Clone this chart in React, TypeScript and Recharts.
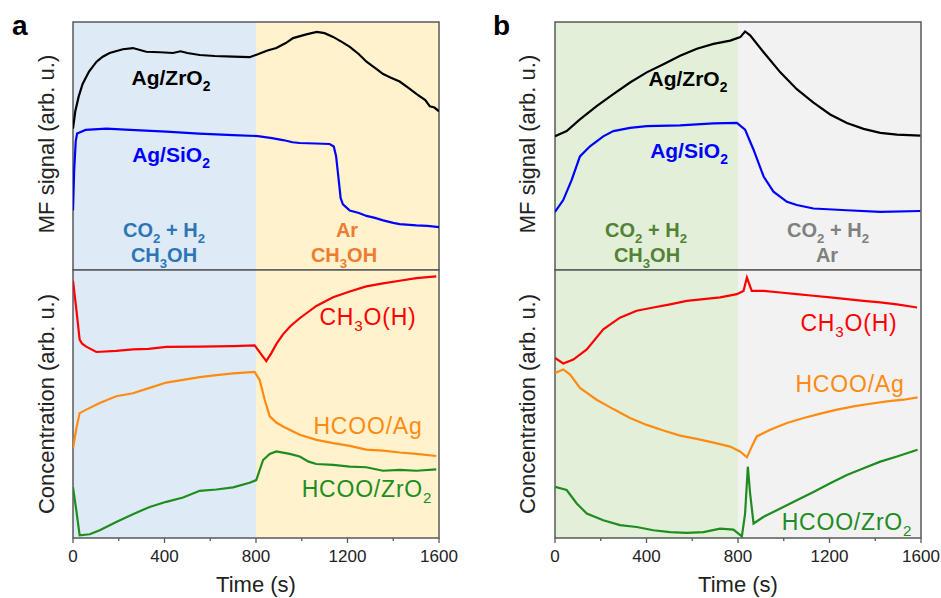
import React from 'react';
import { LineChart, Line, XAxis, YAxis, ReferenceArea } from 'recharts';

type P = { t: number; v: number };
const mk = (a: number[][]): P[] => a.map(([t, v]) => ({ t, v }));

// ---------- panel a, top (MF signal) ----------
const aTopZrO2 = mk([[0,57],[10,64],[25,70],[42,75],[70,80],[103,84],[130,86],[160,87.5],[218,89],[262,89.5],[320,88],[380,87.8],[437,87.5],[470,88.2],[500,87.5],[554,86.7],[620,86.3],[700,86],[772,85.8],[808,87],[850,88.5],[889,89.5],[930,91.5],[962,93.5],[1020,95],[1066,96],[1100,95.5],[1137,94],[1175,92],[1210,90],[1250,87],[1283,84],[1320,81.5],[1356,79],[1390,77.5],[1428,76],[1465,73.5],[1501,71],[1540,68.5],[1560,66],[1580,65.5],[1600,64]]);
const aTopSiO2 = mk([[0,24],[5,40],[12,52],[18,55],[55,56.5],[146,57],[250,56.5],[408,55.8],[550,55],[700,54.4],[808,54],[870,53.2],[918,52.4],[960,51.5],[991,51.2],[1060,51],[1122,50.8],[1140,49.8],[1150,46],[1160,37.6],[1170,29],[1180,26.5],[1210,24],[1250,23],[1283,21.8],[1320,21],[1356,20],[1400,19],[1428,18.5],[1501,18],[1550,17.8],[1600,17.3]]);

// ---------- panel a, bottom (concentration) ----------
const aBotCH3O = mk([[0,96],[15,85],[29,74],[40,72.5],[58,71.4],[102,69.4],[189,69.8],[262,70.4],[330,70.6],[408,71.3],[554,71.4],[700,71.6],[794,71.9],[823,68.5],[845,66],[867,69],[890,72.5],[918,76],[950,79],[991,82],[1064,86.6],[1137,89.8],[1210,92],[1282,93.9],[1355,95],[1428,96],[1501,97],[1588,97.6]]);
const aBotHCOOAg = mk([[0,33.5],[15,41],[29,46.6],[58,47.9],[117,50.4],[189,52.9],[262,54],[335,56],[408,58],[481,59],[554,60],[627,60.8],[700,61.4],[794,62],[816,59],[838,51.6],[860,45.4],[890,43],[918,41.6],[991,38.5],[1064,36.6],[1137,35.4],[1210,34.4],[1282,33],[1355,32.6],[1428,31.9],[1501,31.4],[1588,30.6]]);
const aBotHCOOZr = mk([[0,19],[15,10],[29,1],[73,1.4],[117,2.9],[189,6],[262,8.9],[335,11.6],[408,13.5],[481,15.1],[554,17.6],[627,18.1],[700,18.9],[772,20.6],[801,21.6],[831,29.1],[860,31.4],[889,32.3],[947,31.4],[991,30.4],[1030,28.5],[1064,27.6],[1137,27.3],[1210,26.6],[1282,26.4],[1355,25.1],[1428,25.4],[1501,25.1],[1588,25.6]]);

// ---------- panel b, top ----------
const bTopZrO2 = mk([[0,53.9],[51,56],[109,60.7],[182,66.1],[255,70.9],[328,75.6],[401,79.7],[474,83],[547,86.4],[620,89.2],[693,91.2],[766,92.5],[810,93.9],[831,96.2],[853,94.6],[912,87.8],[985,79.7],[1057,72.9],[1130,67.5],[1203,62.7],[1276,59.3],[1349,56.9],[1422,55.3],[1495,54.6],[1597,54.2]]);
const bTopSiO2 = mk([[0,23.4],[36,28.2],[73,36.3],[109,45.8],[153,49.9],[211,53.9],[255,56],[328,57.3],[401,58],[547,58.3],[693,59.1],[795,59.3],[831,56.6],[868,48.5],[912,37.7],[955,31.6],[1014,27.5],[1057,26.2],[1130,24.8],[1276,24.1],[1422,23.4],[1597,23.8]]);

// ---------- panel b, bottom ----------
const bBotCH3O = mk([[0,67.2],[36,65.1],[80,66.6],[139,70.4],[211,77.9],[284,82.2],[357,84.8],[430,86],[503,87.2],[576,88.5],[649,89.1],[722,89.8],[795,91],[824,92.2],[839,97.2],[860,92.2],[912,92.2],[985,91.6],[1057,91],[1130,90.4],[1203,89.8],[1276,89.1],[1349,88.5],[1422,87.9],[1495,87.2],[1583,86]]);
const bBotHCOOAg = mk([[0,61.6],[36,62.9],[66,61],[109,56],[182,51.6],[255,48.1],[328,44.8],[401,42.2],[474,40.1],[547,38.2],[620,37],[693,35.6],[766,34.1],[810,32.2],[839,30.1],[860,34.1],[882,37.9],[941,40.4],[1014,42.9],[1087,44.8],[1160,46.4],[1233,47.9],[1305,49.1],[1378,50.1],[1451,51],[1524,51.6],[1585,52.5]]);
const bBotHCOOZr = mk([[0,19.1],[51,17.9],[95,12.9],[139,9.1],[211,6.6],[284,4.8],[357,4.1],[430,2.9],[503,2.2],[576,1.9],[649,2.2],[722,3.5],[780,3.1],[817,0.6],[831,9.1],[843,26.6],[853,16.6],[868,5.4],[912,7.9],[985,11],[1057,14.1],[1130,17.2],[1203,20.4],[1276,23.5],[1349,26],[1422,28.5],[1495,30.4],[1585,32.9]]);

const xTicks = [0, 200, 400, 600, 800, 1000, 1200, 1400, 1600];
const phaseSplit = [0, 800, 1600];

const FONT = "Arial, 'Liberation Sans', sans-serif";
const FRAME = '#595959';

const TickMark = (props: any) => {
  const { x, y, payload } = props;
  const major = payload.value % 400 === 0;
  return (
    <g>
      <line x1={x} x2={x} y1={y} y2={y + (major ? 5 : 3)} stroke={FRAME} strokeWidth={1.3} />
      {major && (
        <text x={x} y={y + 24} textAnchor="middle" fontSize={17} fill="#222" fontFamily={FONT}>
          {payload.value}
        </text>
      )}
    </g>
  );
};

type Series = { data: P[]; color: string };

function Sub({ x, y, parts, fs, color, weight, ls }: { x: number; y: number; parts: [string, boolean][]; fs: number; color: string; weight?: string; ls?: number }) {
  let prevSub = false;
  return (
    <text x={x} y={y} textAnchor="middle" fontSize={fs} fill={color} fontWeight={weight || 'normal'} fontFamily={FONT} letterSpacing={ls || 0}>
      {parts.map(([s, sub], i) => {
        let dy = 0;
        if (sub && !prevSub) dy = fs * 0.28;
        if (!sub && prevSub) dy = -fs * 0.28;
        prevSub = sub;
        return (
          <tspan key={i} dy={dy} fontSize={sub ? fs * 0.66 : fs}>
            {s}
          </tspan>
        );
      })}
    </text>
  );
}

function TopChart({ left, width, ml, mr, bg1, bg2, series }: { left: number; width: number; ml: number; mr: number; bg1: string; bg2: string; series: Series[] }) {
  return (
    <div style={{ position: 'absolute', left, top: 0 }}>
      <LineChart width={width} height={280} margin={{ top: 22, right: mr, bottom: 10, left: ml }}>
        <XAxis hide type="number" dataKey="t" domain={[0, 1600]} allowDataOverflow />
        <YAxis hide type="number" domain={[0, 100]} allowDataOverflow />
        <ReferenceArea x1={phaseSplit[0]} x2={phaseSplit[1]} y1={0} y2={100} fill={bg1} fillOpacity={1} stroke="none" />
        <ReferenceArea x1={phaseSplit[1]} x2={phaseSplit[2]} y1={0} y2={100} fill={bg2} fillOpacity={1} stroke="none" />
        <ReferenceArea x1={0} x2={1600} y1={0} y2={100} fill="none" stroke={FRAME} strokeWidth={1.5} />
        {series.map((s, i) => (
          <Line key={i} data={s.data} dataKey="v" type="linear" stroke={s.color} strokeWidth={2.2} dot={false} isAnimationActive={false} />
        ))}
      </LineChart>
    </div>
  );
}

function BottomChart({ left, width, ml, mr, bg1, bg2, series }: { left: number; width: number; ml: number; mr: number; bg1: string; bg2: string; series: Series[] }) {
  return (
    <div style={{ position: 'absolute', left, top: 260 }}>
      <LineChart width={width} height={338} margin={{ top: 10, right: mr, bottom: 4, left: ml }}>
        <XAxis
          type="number"
          dataKey="t"
          domain={[0, 1600]}
          ticks={xTicks}
          interval={0}
          tickSize={0}
          tickMargin={0}
          tickLine={false}
          axisLine={false}
          tick={<TickMark />}
          height={56}
          label={{ value: 'Time (s)', position: 'insideBottom', offset: 2, fontSize: 22, fill: '#222', fontFamily: FONT }}
          allowDataOverflow
        />
        <YAxis hide type="number" domain={[0, 100]} allowDataOverflow />
        <ReferenceArea x1={phaseSplit[0]} x2={phaseSplit[1]} y1={0} y2={100} fill={bg1} fillOpacity={1} stroke="none" />
        <ReferenceArea x1={phaseSplit[1]} x2={phaseSplit[2]} y1={0} y2={100} fill={bg2} fillOpacity={1} stroke="none" />
        <ReferenceArea x1={0} x2={1600} y1={0} y2={100} fill="none" stroke={FRAME} strokeWidth={1.5} />
        {series.map((s, i) => (
          <Line key={i} data={s.data} dataKey="v" type="linear" stroke={s.color} strokeWidth={2.2} dot={false} isAnimationActive={false} />
        ))}
      </LineChart>
    </div>
  );
}

const BLACK = '#000000';
const BLUE = '#0000ff';
const RED = '#ff0000';
const ORANGE = '#ff8a10';
const GREEN = '#1f8c1f';

export default function App() {
  return (
    <div style={{ position: 'absolute', left: 0, top: 0, width: 941, height: 598, background: '#fff', fontFamily: FONT }}>
      <TopChart left={0} width={470} ml={73} mr={31} bg1="#deebf7" bg2="#fff2cc"
        series={[{ data: aTopZrO2, color: BLACK }, { data: aTopSiO2, color: BLUE }]} />
      <BottomChart left={0} width={470} ml={73} mr={31} bg1="#deebf7" bg2="#fff2cc"
        series={[{ data: aBotCH3O, color: RED }, { data: aBotHCOOAg, color: ORANGE }, { data: aBotHCOOZr, color: GREEN }]} />
      <TopChart left={480} width={461} ml={75} mr={20} bg1="#e2f0d9" bg2="#f2f2f2"
        series={[{ data: bTopZrO2, color: BLACK }, { data: bTopSiO2, color: BLUE }]} />
      <BottomChart left={480} width={461} ml={75} mr={20} bg1="#e2f0d9" bg2="#f2f2f2"
        series={[{ data: bBotCH3O, color: RED }, { data: bBotHCOOAg, color: ORANGE }, { data: bBotHCOOZr, color: GREEN }]} />

      <svg width={941} height={598} style={{ position: 'absolute', left: 0, top: 0, pointerEvents: 'none' }}>
        {/* panel letters */}
        <text x={12} y={35} fontSize={28} fontWeight="bold" fontFamily={FONT} fill="#000">a</text>
        <text x={493} y={35} fontSize={28} fontWeight="bold" fontFamily={FONT} fill="#000">b</text>

        {/* y-axis titles */}
        <text transform="translate(46,144) rotate(-90)" textAnchor="middle" dominantBaseline="central" fontSize={22} fill="#222" fontFamily={FONT}>MF signal (arb. u.)</text>
        <text transform="translate(46,404) rotate(-90)" textAnchor="middle" dominantBaseline="central" fontSize={22} fill="#222" fontFamily={FONT}>Concentration (arb. u.)</text>
        <text transform="translate(527,144) rotate(-90)" textAnchor="middle" dominantBaseline="central" fontSize={22} fill="#222" fontFamily={FONT}>MF signal (arb. u.)</text>
        <text transform="translate(527,404) rotate(-90)" textAnchor="middle" dominantBaseline="central" fontSize={22} fill="#222" fontFamily={FONT}>Concentration (arb. u.)</text>

        {/* panel a annotations */}
        <Sub x={171} y={85} fs={21} weight="bold" color="#000" parts={[['Ag/ZrO', false], ['2', true]]} />
        <Sub x={171} y={162} fs={21} weight="bold" color={BLUE} parts={[['Ag/SiO', false], ['2', true]]} />
        <Sub x={164} y={237} fs={20} weight="bold" color="#2e75b6" parts={[['CO', false], ['2', true], [' + H', false], ['2', true]]} />
        <Sub x={164} y={262} fs={20} weight="bold" color="#2e75b6" parts={[['CH', false], ['3', true], ['OH', false]]} />
        <Sub x={347} y={237} fs={20} weight="bold" color="#ed7d31" parts={[['Ar', false]]} />
        <Sub x={344} y={262} fs={20} weight="bold" color="#ed7d31" parts={[['CH', false], ['3', true], ['OH', false]]} />
        <Sub x={368} y={325} fs={23} ls={0.8} color={RED} parts={[['CH', false], ['3', true], ['O(H)', false]]} />
        <Sub x={368} y={434} fs={23} ls={0.8} color={ORANGE} parts={[['HCOO/Ag', false]]} />
        <Sub x={367} y={497} fs={23} ls={0.8} color={GREEN} parts={[['HCOO/ZrO', false], ['2', true]]} />

        {/* panel b annotations */}
        <Sub x={688} y={86} fs={21} weight="bold" color="#000" parts={[['Ag/ZrO', false], ['2', true]]} />
        <Sub x={689} y={158} fs={21} weight="bold" color={BLUE} parts={[['Ag/SiO', false], ['2', true]]} />
        <Sub x={646} y={237} fs={20} weight="bold" color="#548235" parts={[['CO', false], ['2', true], [' + H', false], ['2', true]]} />
        <Sub x={647} y={262} fs={20} weight="bold" color="#548235" parts={[['CH', false], ['3', true], ['OH', false]]} />
        <Sub x={828} y={237} fs={20} weight="bold" color="#808080" parts={[['CO', false], ['2', true], [' + H', false], ['2', true]]} />
        <Sub x={827} y={262} fs={20} weight="bold" color="#808080" parts={[['Ar', false]]} />
        <Sub x={849} y={331} fs={23} ls={0.8} color={RED} parts={[['CH', false], ['3', true], ['O(H)', false]]} />
        <Sub x={850} y={392} fs={23} ls={0.8} color={ORANGE} parts={[['HCOO/Ag', false]]} />
        <Sub x={847} y={530} fs={23} ls={0.8} color={GREEN} parts={[['HCOO/ZrO', false], ['2', true]]} />
      </svg>
    </div>
  );
}
